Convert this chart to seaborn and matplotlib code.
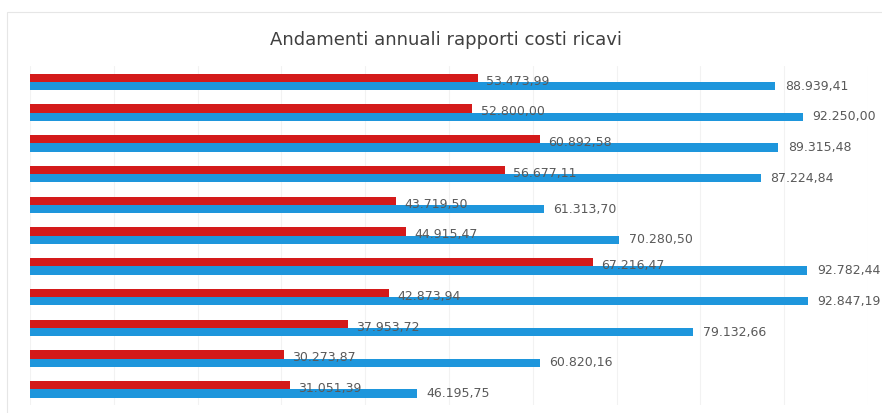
import matplotlib
matplotlib.use("Agg")
import matplotlib.pyplot as plt
import seaborn as sns
import pandas as pd
from matplotlib.patches import Rectangle

categories = ["A1", "A2", "A3", "A4", "A5", "A6", "A7", "A8", "A9", "A10", "A11"]
costi = [53473.99, 52800.00, 60892.58, 56677.11, 43719.50, 44915.47,
         67216.47, 42873.94, 37953.72, 30273.87, 31051.39]
ricavi = [88939.41, 92250.00, 89315.48, 87224.84, 61313.70, 70280.50,
          92782.44, 92847.19, 79132.66, 60820.16, 46195.75]
series_names = ["Costi", "Ricavi"]
title = "Andamenti annuali rapporti costi ricavi"

RED = "#D41A1A"
BLUE = "#1E96DC"
TXT = "#595959"

sns.set_theme(style="white")
plt.rcParams["font.family"] = ["DejaVu Sans"]

df = pd.DataFrame({
    "cat": categories * 2,
    "val": costi + ricavi,
    "serie": [series_names[0]] * len(categories) + [series_names[1]] * len(categories),
})

fig = plt.figure(figsize=(8.82, 4.13), dpi=100)
ax = fig.add_axes([0.034, 0.020, 0.950, 0.819])

sns.barplot(data=df, y="cat", x="val", hue="serie", orient="h",
            palette=[RED, BLUE], width=0.54, dodge=True, legend=False,
            saturation=1, linewidth=0, ax=ax)

ax.set_xlim(0, 100000)
ax.set_ylim(10.5, -0.5)
ax.set_xticks(range(0, 100001, 10000))
ax.grid(axis="x", color="#F2F2F2", linewidth=0.8)
ax.set_axisbelow(True)
for s in ax.spines.values():
    s.set_visible(False)
ax.tick_params(left=False, bottom=False, labelleft=False, labelbottom=False)
ax.set_xlabel("")
ax.set_ylabel("")

def fmt(v):
    s = f"{v:,.2f}"
    return s.replace(",", "X").replace(".", ",").replace("X", ".")

cont_red, cont_blue = ax.containers[0], ax.containers[1]
anns_r = ax.bar_label(cont_red, labels=[fmt(v) for v in costi], padding=6,
                      fontsize=9, color=TXT)
for a in anns_r:
    a.xyann = (6, -2.5)
ax.bar_label(cont_blue, labels=[fmt(v) for v in ricavi], padding=7,
             fontsize=9, color=TXT, clip_on=False)

fig.text(0.506, 0.903, title, ha="center", va="center", fontsize=13,
         color="#404040")

fig.patches.append(Rectangle((0.008, -0.02), 1.1, 0.99, transform=fig.transFigure,
                             fill=False, edgecolor="#E6E6E6", linewidth=0.8))

fig.savefig("out.png", dpi=100, facecolor="white")
